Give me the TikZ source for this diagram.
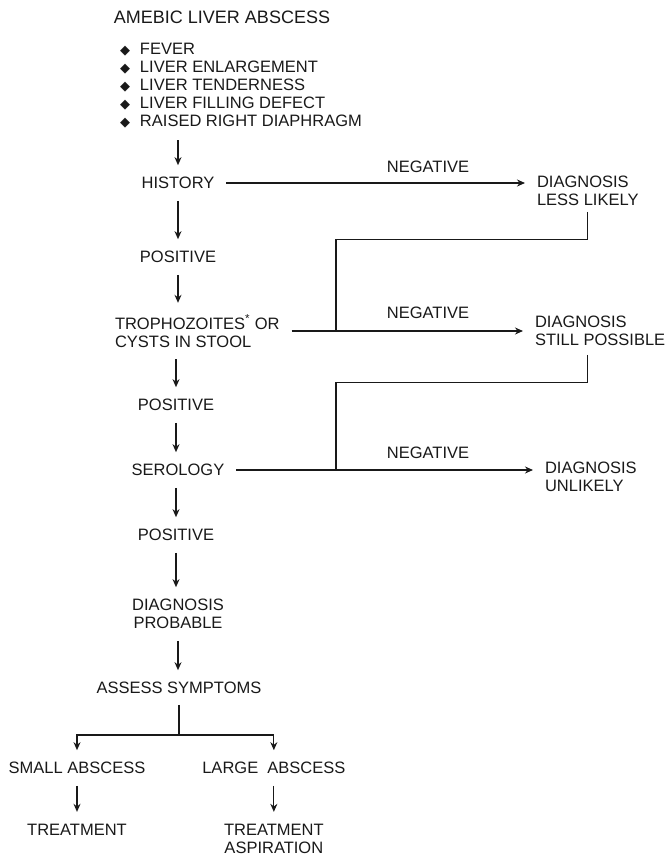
\documentclass[tikz,border=0pt]{standalone}
\usepackage{fontspec}
\setmainfont{Liberation Sans}
\newfontfamily\symfont{DejaVu Sans}
\usepackage{tikz}
\usetikzlibrary{positioning, arrows.meta}

\newcommand{\dmd}{{\symfont\fontsize{13}{13}\selectfont ◆}\hspace{10pt}}

\begin{document}
\begin{tikzpicture}[
    x=1pt, y=-1pt,
    font=\fontsize{16.5}{18}\selectfont,
    txt/.style={inner sep=0pt, outer sep=0pt, align=center, text=black!90},
    arr/.style={-{Stealth[length=8pt, width=7pt]}, line width=1.2pt, draw=black!90, shorten <=12pt, shorten >=12pt},
    link/.style={line width=1.2pt, draw=black!90},
  ]
  \useasboundingbox (0,0) rectangle (667,856);

  % main column
  \node[txt, font=\fontsize{18}{20}\selectfont] (title) at (222,17) {AMEBIC LIVER ABSCESS};
  \node[txt, align=left, anchor=west] (signs) at (120,86) {\dmd FEVER\\\dmd LIVER ENLARGEMENT\\\dmd LIVER TENDERNESS\\\dmd LIVER FILLING DEFECT\\\dmd RAISED RIGHT DIAPHRAGM};
  \node[txt] (hist) at (178,183) {HISTORY};
  \node[txt] (pos1) at (178,257) {POSITIVE};
  \node[txt, align=left, anchor=west] (troph) at (115,331) {TROPHOZOITES\textsuperscript{*} OR\\CYSTS IN STOOL};
  \node[txt] (pos2) at (176,405) {POSITIVE};
  \node[txt] (sero) at (178,470) {SEROLOGY};
  \node[txt] (pos3) at (176,535) {POSITIVE};
  \node[txt] (prob) at (178,614) {DIAGNOSIS\\PROBABLE};
  \node[txt] (assess) at (179,688) {ASSESS SYMPTOMS};
  \node[txt] (small) at (77,768) {SMALL ABSCESS};
  \node[txt, right=57pt of small] (large) {LARGE\ \ ABSCESS};
  \node[txt, below=50pt of small] (treatS) {TREATMENT};
  \node[txt, below=50pt of large] (treatL) {TREATMENT\\ASPIRATION};

  % negative branch
  \node[txt, align=left, anchor=west] (lessl) at (537,191) {DIAGNOSIS\\LESS LIKELY};
  \node[txt, align=left, anchor=west] (still) at (535,331) {DIAGNOSIS\\STILL POSSIBLE};
  \node[txt, align=left, anchor=west] (unlik) at (545,477) {DIAGNOSIS\\UNLIKELY};
  \node[txt] (neg1) at (428,167) {NEGATIVE};
  \node[txt] (neg2) at (428,313) {NEGATIVE};
  \node[txt] (neg3) at (428,453) {NEGATIVE};

  \coordinate (bus) at (336,0);
  \coordinate (split) at (0,735);

  \draw[arr] (signs.south -| hist) -- (hist);
  \draw[arr] (hist) -- (pos1);
  \draw[arr] (pos1) -- (pos1 |- troph.north);
  \draw[arr] (troph.south -| pos2) -- (pos2);
  \draw[arr] (pos2) -- (pos2 |- sero.north);
  \draw[arr] (sero.south -| pos3) -- (pos3);
  \draw[arr] (pos3) -- (pos3 |- prob.north);
  \draw[arr] (prob) -- (prob |- assess.north);

  \draw[arr] (hist) -- (hist -| lessl.west);
  \draw[arr] (troph.east) -- (troph.east -| still.west);
  \draw[arr] (sero) -- (sero -| unlik.west);
  \draw[link] ([yshift=-6pt]lessl.south) -- ++(0,28) -| (troph -| bus);
  \draw[link] (still.south -| lessl.south) ++(0,9) -- ++(0,28) -| (sero -| bus);

  \draw[link, shorten <=11pt] (assess) -- (assess |- split);
  \draw[arr, shorten <=0pt] (assess |- split) -| (small);
  \draw[arr, shorten <=0pt] (assess |- split) -| (large);
  \draw[arr] (small) -- (treatS);
  \draw[arr] (large) -- (treatL);
\end{tikzpicture}
\end{document}
